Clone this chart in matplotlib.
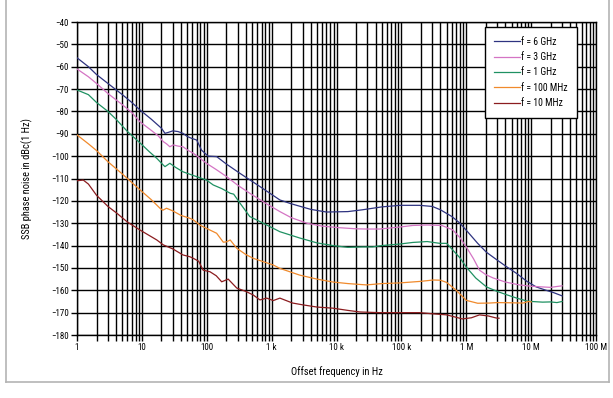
import matplotlib
matplotlib.use("Agg")
import matplotlib.pyplot as plt
from matplotlib import font_manager
from matplotlib.lines import Line2D
from matplotlib.ticker import FixedLocator, LogLocator, NullFormatter

# pick a narrow font if we have one
names = {f.name for f in font_manager.fontManager.ttflist}
family = "DejaVu Sans"
for cand in ["Liberation Sans Narrow", "Roboto Condensed", "DejaVu Sans Condensed", "Liberation Sans"]:
    if cand in names:
        family = cand
        break
plt.rcParams["font.family"] = [family, "DejaVu Sans"]

# data (offset freq in Hz, SSB phase noise in dBc/Hz)
f_6g = [1, 1.5, 2, 3, 5, 7, 9.3, 14, 20, 22.7, 26, 30, 36, 43, 50, 58, 70, 83, 105, 142, 200,
        325, 660, 1340, 2000, 4000, 7000, 15000, 25000, 50000, 95000, 190000, 300000, 400000,
        600000, 800000, 1.1e6, 1.5e6, 2.05e6, 3e6, 4.2e6, 6e6, 8.6e6, 12e6, 17e6, 22e6, 30e6]
n_6g = [-56, -60, -63.5, -67.5, -72.5, -76, -79.3, -83.5, -87.5, -89.8, -89.3, -88.7, -89, -89.8,
        -91.2, -92, -92.8, -97.3, -100, -100.2, -103.5, -107.7, -113.6, -119.6, -121.3, -123.8,
        -125, -124.8, -124, -122.7, -122, -122, -122.5, -124, -127, -130, -134.5, -139, -143,
        -146.5, -149.5, -152.5, -156, -158.5, -160, -161, -162.5]

f_3g = [1, 1.5, 2, 3, 5, 7, 9.3, 14, 18, 21.4, 24, 27, 30.5, 36, 43, 52, 62, 79, 99, 140, 203,
        300, 460, 800, 1340, 2000, 3500, 6000, 11000, 20000, 29000, 46000, 95000, 150000, 250000,
        420000, 620000, 800000, 1e6, 1.3e6, 1.6e6, 2e6, 2.6e6, 4e6, 6.6e6, 10e6, 15e6, 20e6,
        25e6, 30e6]
n_3g = [-61, -64.5, -67.5, -72, -77, -80.5, -84.6, -88.5, -91, -93.5, -94.5, -95.8, -95, -95.5,
        -95.8, -97.5, -98.7, -101, -103.2, -106, -109.2, -113, -116.6, -121, -124.8, -127.5,
        -130, -131.3, -132, -132.5, -132.6, -132.6, -131.7, -131, -130.8, -131, -133, -136.5,
        -140.6, -146, -151, -153, -154.5, -156.3, -157.6, -158.2, -158.5, -158.7, -158.3, -158]

f_1g = [1, 1.5, 2, 3, 4, 6, 9.3, 13, 17, 21.4, 22.7, 27, 33, 43, 60, 99, 126, 170, 230, 260,
        325, 460, 840, 1340, 2700, 5000, 8800, 15000, 25000, 36000, 50000, 95000, 150000, 250000,
        390000, 500000, 620000, 800000, 1e6, 1.4e6, 2.05e6, 3e6, 4.2e6, 6e6, 8.6e6, 10e6, 15e6,
        20e6, 25e6, 30e6]
n_1g = [-70.4, -72.5, -76, -80, -83.5, -89, -94, -98, -101, -104, -104.7, -103.2, -105, -107,
        -108.5, -110.7, -112.9, -114.5, -116.6, -117, -121, -127, -130.8, -133.8, -136.6,
        -138.8, -140, -140.8, -140.6, -140.6, -140, -139.3, -138.6, -138.2, -139, -139, -142,
        -145.5, -149.6, -154.5, -158.5, -160.5, -162, -163.5, -164.8, -165, -165.3, -165.2,
        -165.5, -165]

f_100m = [1, 1.5, 2, 3, 5, 9.3, 14, 19, 21, 24, 30, 40, 55, 62, 80, 99, 142, 180, 203, 230,
          290, 400, 520, 1060, 1340, 2700, 5000, 8800, 15000, 29000, 50000, 95000, 200000,
          310000, 400000, 500000, 700000, 1e6, 1.5e6, 2.3e6, 3e6, 5e6, 7.6e6, 9e6, 10e6]
n_100m = [-90.5, -94.5, -97.5, -102.5, -108, -115, -119.5, -123.3, -124.2, -123.3, -124.5,
          -126.5, -127.8, -128.5, -131, -132.3, -134.5, -138.5, -138.3, -137.5, -141.2, -144,
          -145.7, -148.7, -150.2, -153.2, -155, -156.3, -157, -157.6, -157, -156.7, -156,
          -155.4, -155.5, -156.5, -160, -164.5, -165.8, -165.7, -165.5, -165.6, -165.7, -165,
          -165.2]

f_10m = [1, 1.25, 1.5, 2, 3, 4.1, 6, 9.3, 13, 17, 21.4, 30, 43, 55, 62, 75, 88, 112, 140, 170,
         214, 290, 400, 520, 660, 840, 1060, 1340, 2100, 3000, 5000, 8800, 15000, 23000, 46000,
         95000, 190000, 300000, 500000, 870000, 1.2e6, 1.6e6, 2.2e6, 2.9e6, 3.2e6]
n_10m = [-111, -110.7, -112.5, -117.5, -122.5, -125.5, -129.5, -133, -135.5, -137.5, -139.7,
         -141.5, -144.2, -145, -145.7, -147, -151, -151.7, -153.5, -156.2, -155, -159, -160.5,
         -162.1, -164.3, -163.5, -164.6, -163.5, -165.7, -166.5, -167.5, -168, -169, -169.7,
         -170, -170, -170, -170.5, -171, -172.8, -172.3, -171, -171.5, -172.4, -172.5]

labels = ["f = 6 GHz", "f = 3 GHz", "f = 1 GHz", "f = 100 MHz", "f = 10 MHz"]
colors = ["#2e3380", "#d474c4", "#1f9162", "#f08a2c", "#8b1c1f"]
series = [(f_6g, n_6g), (f_3g, n_3g), (f_1g, n_1g), (f_100m, n_100m), (f_10m, n_10m)]

x_ticks = [1, 10, 100, 1e3, 1e4, 1e5, 1e6, 1e7, 1e8]
x_labels = ["1", "10", "100", "1 k", "10 k", "100 k", "1 M", "10 M", "100 M"]
y_ticks = list(range(-180, -30, 10))

fig = plt.figure(figsize=(6.13, 3.98), dpi=100)
ax = fig.add_axes([77 / 613, 1 - 335 / 398, (596 - 77) / 613, (335 - 22) / 398])

for (fx, ny), lab, c in zip(series, labels, colors):
    ax.plot(fx, ny, color=c, lw=0.9, label=lab, zorder=3)

ax.set_xscale("log")
ax.set_xlim(1, 1e8)
ax.set_ylim(-180, -40)
ax.xaxis.set_major_locator(FixedLocator(x_ticks))
ax.set_xticklabels(x_labels)
ax.xaxis.set_minor_locator(LogLocator(base=10, subs=range(2, 10), numticks=100))
ax.xaxis.set_minor_formatter(NullFormatter())
ax.set_yticks(y_ticks)
ax.set_yticklabels([f"\u2212{abs(v)}" for v in y_ticks])

ax.grid(which="major", axis="both", color="black", lw=1.0)
ax.grid(which="minor", axis="x", color="black", lw=1.0)
ax.tick_params(which="both", direction="out", length=4, width=1.0, labelsize=6.5, pad=2, color="black")
for s in ax.spines.values():
    s.set_linewidth(1.0)

ax.set_xlabel("Offset frequency in Hz", fontsize=7.5, labelpad=10)
ax.set_ylabel("SSB phase noise in dBc(1 Hz)", fontsize=7.5, labelpad=13)

leg = ax.legend(loc="upper right", bbox_to_anchor=(577 / 613, 1 - 27 / 398),
                bbox_transform=fig.transFigure, borderaxespad=0, fontsize=7,
                handlelength=2.6, handletextpad=0.1, labelspacing=0.55, borderpad=1.0,
                fancybox=False, framealpha=1, edgecolor="black")
leg.get_frame().set_linewidth(1.0)
for h in leg.get_lines():
    h.set_linewidth(0.9)

# grey outline round the figure (top runs off the image)
gc = "#b4b4b4"
fig.add_artist(Line2D([6 / 613, 6 / 613], [1.0, 1 - 382 / 398], color=gc, lw=1.2, transform=fig.transFigure))
fig.add_artist(Line2D([609 / 613, 609 / 613], [1.0, 1 - 382 / 398], color=gc, lw=1.2, transform=fig.transFigure))
fig.add_artist(Line2D([6 / 613, 609 / 613], [1 - 382 / 398, 1 - 382 / 398], color=gc, lw=1.2, transform=fig.transFigure))

fig.savefig("out.png", dpi=100)
